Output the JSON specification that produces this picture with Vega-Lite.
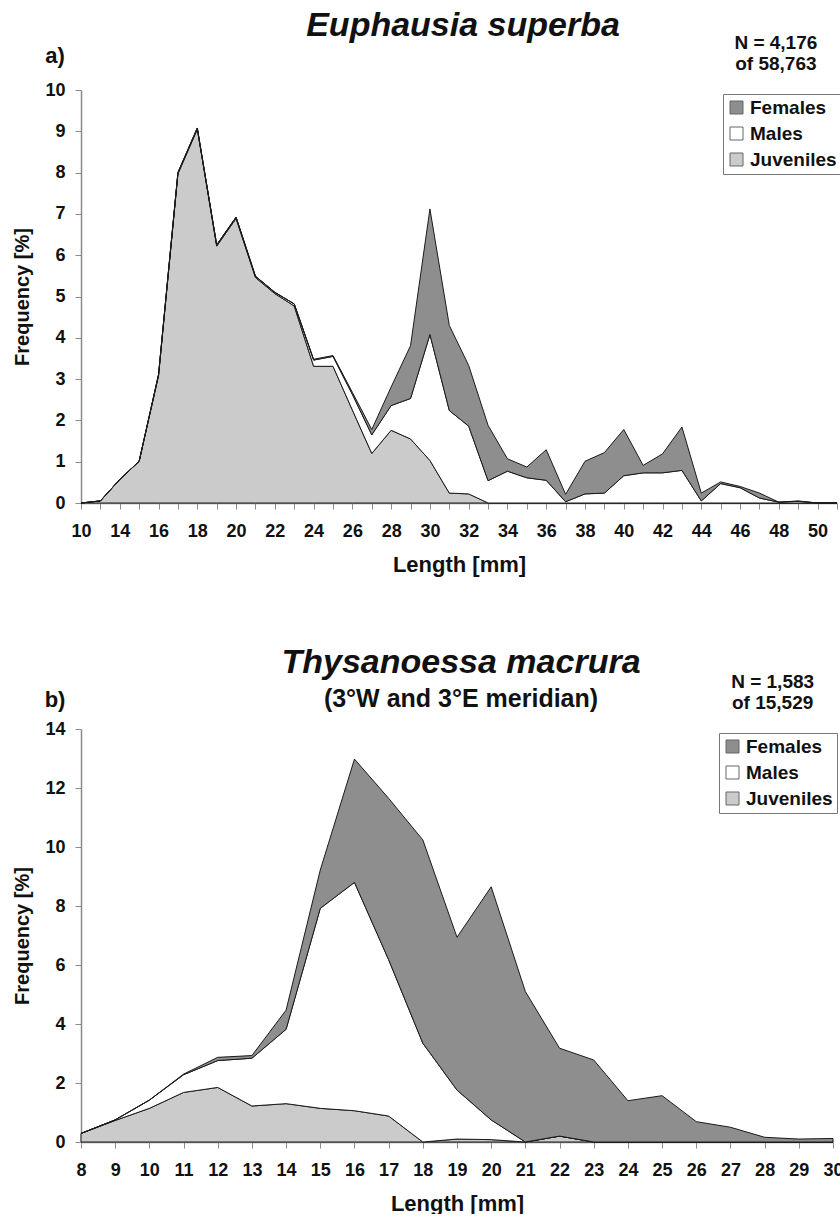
{
  "$schema": "https://vega.github.io/schema/vega-lite/v6.json",
  "padding": {"left": 12, "top": 8, "right": 0, "bottom": 0},
  "datasets": {
    "krill": [
      {"len": "10", "group": "Juveniles", "freq": 0}, {"len": "10", "group": "Males", "freq": 0}, {"len": "10", "group": "Females", "freq": 0},
      {"len": "13", "group": "Juveniles", "freq": 0.05}, {"len": "13", "group": "Males", "freq": 0}, {"len": "13", "group": "Females", "freq": 0},
      {"len": "14", "group": "Juveniles", "freq": 0.57}, {"len": "14", "group": "Males", "freq": 0}, {"len": "14", "group": "Females", "freq": 0},
      {"len": "15", "group": "Juveniles", "freq": 1.01}, {"len": "15", "group": "Males", "freq": 0}, {"len": "15", "group": "Females", "freq": 0},
      {"len": "16", "group": "Juveniles", "freq": 3.08}, {"len": "16", "group": "Males", "freq": 0.03}, {"len": "16", "group": "Females", "freq": 0},
      {"len": "17", "group": "Juveniles", "freq": 7.97}, {"len": "17", "group": "Males", "freq": 0.03}, {"len": "17", "group": "Females", "freq": 0},
      {"len": "18", "group": "Juveniles", "freq": 9.05}, {"len": "18", "group": "Males", "freq": 0.03}, {"len": "18", "group": "Females", "freq": 0},
      {"len": "19", "group": "Juveniles", "freq": 6.22}, {"len": "19", "group": "Males", "freq": 0.03}, {"len": "19", "group": "Females", "freq": 0},
      {"len": "20", "group": "Juveniles", "freq": 6.89}, {"len": "20", "group": "Males", "freq": 0.03}, {"len": "20", "group": "Females", "freq": 0},
      {"len": "21", "group": "Juveniles", "freq": 5.46}, {"len": "21", "group": "Males", "freq": 0.03}, {"len": "21", "group": "Females", "freq": 0},
      {"len": "22", "group": "Juveniles", "freq": 5.07}, {"len": "22", "group": "Males", "freq": 0.03}, {"len": "22", "group": "Females", "freq": 0},
      {"len": "23", "group": "Juveniles", "freq": 4.77}, {"len": "23", "group": "Males", "freq": 0.05}, {"len": "23", "group": "Females", "freq": 0},
      {"len": "24", "group": "Juveniles", "freq": 3.31}, {"len": "24", "group": "Males", "freq": 0.15}, {"len": "24", "group": "Females", "freq": 0.02},
      {"len": "25", "group": "Juveniles", "freq": 3.31}, {"len": "25", "group": "Males", "freq": 0.24}, {"len": "25", "group": "Females", "freq": 0.02},
      {"len": "26", "group": "Juveniles", "freq": 2.25}, {"len": "26", "group": "Males", "freq": 0.38}, {"len": "26", "group": "Females", "freq": 0.05},
      {"len": "27", "group": "Juveniles", "freq": 1.2}, {"len": "27", "group": "Males", "freq": 0.45}, {"len": "27", "group": "Females", "freq": 0.13},
      {"len": "28", "group": "Juveniles", "freq": 1.76}, {"len": "28", "group": "Males", "freq": 0.6}, {"len": "28", "group": "Females", "freq": 0.45},
      {"len": "29", "group": "Juveniles", "freq": 1.55}, {"len": "29", "group": "Males", "freq": 0.98}, {"len": "29", "group": "Females", "freq": 1.28},
      {"len": "30", "group": "Juveniles", "freq": 1.03}, {"len": "30", "group": "Males", "freq": 3.05}, {"len": "30", "group": "Females", "freq": 3.04},
      {"len": "31", "group": "Juveniles", "freq": 0.24}, {"len": "31", "group": "Males", "freq": 2.0}, {"len": "31", "group": "Females", "freq": 2.06},
      {"len": "32", "group": "Juveniles", "freq": 0.22}, {"len": "32", "group": "Males", "freq": 1.64}, {"len": "32", "group": "Females", "freq": 1.47},
      {"len": "33", "group": "Juveniles", "freq": 0}, {"len": "33", "group": "Males", "freq": 0.54}, {"len": "33", "group": "Females", "freq": 1.34},
      {"len": "34", "group": "Juveniles", "freq": 0}, {"len": "34", "group": "Males", "freq": 0.77}, {"len": "34", "group": "Females", "freq": 0.3},
      {"len": "35", "group": "Juveniles", "freq": 0}, {"len": "35", "group": "Males", "freq": 0.61}, {"len": "35", "group": "Females", "freq": 0.26},
      {"len": "36", "group": "Juveniles", "freq": 0}, {"len": "36", "group": "Males", "freq": 0.55}, {"len": "36", "group": "Females", "freq": 0.74},
      {"len": "37", "group": "Juveniles", "freq": 0}, {"len": "37", "group": "Males", "freq": 0.03}, {"len": "37", "group": "Females", "freq": 0.18},
      {"len": "38", "group": "Juveniles", "freq": 0}, {"len": "38", "group": "Males", "freq": 0.22}, {"len": "38", "group": "Females", "freq": 0.79},
      {"len": "39", "group": "Juveniles", "freq": 0}, {"len": "39", "group": "Males", "freq": 0.24}, {"len": "39", "group": "Females", "freq": 0.98},
      {"len": "40", "group": "Juveniles", "freq": 0}, {"len": "40", "group": "Males", "freq": 0.66}, {"len": "40", "group": "Females", "freq": 1.12},
      {"len": "41", "group": "Juveniles", "freq": 0}, {"len": "41", "group": "Males", "freq": 0.73}, {"len": "41", "group": "Females", "freq": 0.18},
      {"len": "42", "group": "Juveniles", "freq": 0}, {"len": "42", "group": "Males", "freq": 0.73}, {"len": "42", "group": "Females", "freq": 0.46},
      {"len": "43", "group": "Juveniles", "freq": 0}, {"len": "43", "group": "Males", "freq": 0.79}, {"len": "43", "group": "Females", "freq": 1.05},
      {"len": "44", "group": "Juveniles", "freq": 0}, {"len": "44", "group": "Males", "freq": 0.05}, {"len": "44", "group": "Females", "freq": 0.19},
      {"len": "45", "group": "Juveniles", "freq": 0}, {"len": "45", "group": "Males", "freq": 0.47}, {"len": "45", "group": "Females", "freq": 0.04},
      {"len": "46", "group": "Juveniles", "freq": 0}, {"len": "46", "group": "Males", "freq": 0.37}, {"len": "46", "group": "Females", "freq": 0.03},
      {"len": "47", "group": "Juveniles", "freq": 0}, {"len": "47", "group": "Males", "freq": 0.12}, {"len": "47", "group": "Females", "freq": 0.12},
      {"len": "48", "group": "Juveniles", "freq": 0}, {"len": "48", "group": "Males", "freq": 0.02}, {"len": "48", "group": "Females", "freq": 0},
      {"len": "49", "group": "Juveniles", "freq": 0}, {"len": "49", "group": "Males", "freq": 0.04}, {"len": "49", "group": "Females", "freq": 0.01},
      {"len": "50", "group": "Juveniles", "freq": 0}, {"len": "50", "group": "Males", "freq": 0}, {"len": "50", "group": "Females", "freq": 0},
      {"len": "51", "group": "Juveniles", "freq": 0}, {"len": "51", "group": "Males", "freq": 0}, {"len": "51", "group": "Females", "freq": 0}
    ],
    "thysa": [
      {"len": "8", "group": "Juveniles", "freq": 0.29}, {"len": "8", "group": "Males", "freq": 0}, {"len": "8", "group": "Females", "freq": 0},
      {"len": "9", "group": "Juveniles", "freq": 0.73}, {"len": "9", "group": "Males", "freq": 0.02}, {"len": "9", "group": "Females", "freq": 0},
      {"len": "10", "group": "Juveniles", "freq": 1.14}, {"len": "10", "group": "Males", "freq": 0.28}, {"len": "10", "group": "Females", "freq": 0},
      {"len": "11", "group": "Juveniles", "freq": 1.68}, {"len": "11", "group": "Males", "freq": 0.6}, {"len": "11", "group": "Females", "freq": 0.02},
      {"len": "12", "group": "Juveniles", "freq": 1.85}, {"len": "12", "group": "Males", "freq": 0.91}, {"len": "12", "group": "Females", "freq": 0.11},
      {"len": "13", "group": "Juveniles", "freq": 1.22}, {"len": "13", "group": "Males", "freq": 1.62}, {"len": "13", "group": "Females", "freq": 0.09},
      {"len": "14", "group": "Juveniles", "freq": 1.3}, {"len": "14", "group": "Males", "freq": 2.52}, {"len": "14", "group": "Females", "freq": 0.65},
      {"len": "15", "group": "Juveniles", "freq": 1.14}, {"len": "15", "group": "Males", "freq": 6.78}, {"len": "15", "group": "Females", "freq": 1.3},
      {"len": "16", "group": "Juveniles", "freq": 1.06}, {"len": "16", "group": "Males", "freq": 7.74}, {"len": "16", "group": "Females", "freq": 4.18},
      {"len": "17", "group": "Juveniles", "freq": 0.88}, {"len": "17", "group": "Males", "freq": 5.3}, {"len": "17", "group": "Females", "freq": 5.47},
      {"len": "18", "group": "Juveniles", "freq": 0}, {"len": "18", "group": "Males", "freq": 3.35}, {"len": "18", "group": "Females", "freq": 6.89},
      {"len": "19", "group": "Juveniles", "freq": 0.1}, {"len": "19", "group": "Males", "freq": 1.66}, {"len": "19", "group": "Females", "freq": 5.18},
      {"len": "20", "group": "Juveniles", "freq": 0.08}, {"len": "20", "group": "Males", "freq": 0.67}, {"len": "20", "group": "Females", "freq": 7.9},
      {"len": "21", "group": "Juveniles", "freq": 0}, {"len": "21", "group": "Males", "freq": 0}, {"len": "21", "group": "Females", "freq": 5.1},
      {"len": "22", "group": "Juveniles", "freq": 0.2}, {"len": "22", "group": "Males", "freq": 0}, {"len": "22", "group": "Females", "freq": 2.98},
      {"len": "23", "group": "Juveniles", "freq": 0}, {"len": "23", "group": "Males", "freq": 0}, {"len": "23", "group": "Females", "freq": 2.78},
      {"len": "24", "group": "Juveniles", "freq": 0}, {"len": "24", "group": "Males", "freq": 0}, {"len": "24", "group": "Females", "freq": 1.4},
      {"len": "25", "group": "Juveniles", "freq": 0}, {"len": "25", "group": "Males", "freq": 0}, {"len": "25", "group": "Females", "freq": 1.57},
      {"len": "26", "group": "Juveniles", "freq": 0}, {"len": "26", "group": "Males", "freq": 0}, {"len": "26", "group": "Females", "freq": 0.69},
      {"len": "27", "group": "Juveniles", "freq": 0}, {"len": "27", "group": "Males", "freq": 0}, {"len": "27", "group": "Females", "freq": 0.5},
      {"len": "28", "group": "Juveniles", "freq": 0}, {"len": "28", "group": "Males", "freq": 0}, {"len": "28", "group": "Females", "freq": 0.16},
      {"len": "29", "group": "Juveniles", "freq": 0}, {"len": "29", "group": "Males", "freq": 0}, {"len": "29", "group": "Females", "freq": 0.1},
      {"len": "30", "group": "Juveniles", "freq": 0}, {"len": "30", "group": "Males", "freq": 0}, {"len": "30", "group": "Females", "freq": 0.12}
    ]
  },
  "spacing": 71,
  "resolve": {"legend": {"color": "independent"}},
  "vconcat": [
    {
      "width": 756,
      "height": 413,
      "title": {"text": "Euphausia superba", "offset": -9, "dx": 4},
      "layer": [
        {
          "data": {"name": "krill"},
          "transform": [{"stack": "freq", "groupby": ["len"], "as": ["lo", "hi"]}],
          "mark": {"type": "area", "stroke": "#1a1a1a", "strokeWidth": 1, "opacity": 1, "fillOpacity": 1},
          "encoding": {
            "x": {
              "field": "len", "type": "ordinal",
              "scale": {"type": "point", "padding": 0, "domain": ["10","13","14","15","16","17","18","19","20","21","22","23","24","25","26","27","28","29","30","31","32","33","34","35","36","37","38","39","40","41","42","43","44","45","46","47","48","49","50","51"]},
              "axis": {"title": "Length [mm]", "labelAngle": 0, "labelPadding": 13, "titlePadding": 14, "titleFontSize": 22, "labelOverlap": false,
                "labelExpr": "indexof(['10','14','16','18','20','22','24','26','28','30','32','34','36','38','40','42','44','46','48','50'], datum.value) >= 0 ? datum.label : ''"}
            },
            "y": {"field": "hi", "type": "quantitative", "scale": {"domain": [0, 10], "nice": false},
              "axis": {"title": "Frequency [%]", "values": [0,1,2,3,4,5,6,7,8,9,10], "labelPadding": 10, "titlePadding": 12}},
            "y2": {"field": "lo"},
            "color": {"field": "group", "type": "nominal",
              "scale": {"domain": ["Females", "Males", "Juveniles"], "range": ["#8e8e8e", "#ffffff", "#cbcbcb"]},
              "legend": {"orient": "none", "legendX": 642, "legendY": 4}}
          }
        },
        {
          "data": {"values": [{"label": "a)"}]},
          "mark": {"type": "text", "fontSize": 22, "fontWeight": "bold", "font": "Liberation Sans", "align": "center", "baseline": "middle", "dx": -26, "color": "#111"},
          "encoding": {"x": {"datum": "10", "type": "ordinal"}, "y": {"datum": 10.83, "type": "quantitative"}, "text": {"field": "label"}}
        },
        {
          "data": {"values": [{"label": ["N = 4,176", "of 58,763"]}]},
          "mark": {"type": "text", "fontSize": 19, "fontWeight": "bold", "font": "Liberation Sans", "align": "center", "baseline": "middle", "dx": -3, "lineHeight": 21, "color": "#111"},
          "encoding": {"x": {"datum": "48", "type": "ordinal"}, "y": {"datum": 11.14, "type": "quantitative"}, "text": {"field": "label"}}
        }
      ]
    },
    {
      "width": 752,
      "height": 413,
      "title": {"text": "Thysanoessa macrura", "subtitle": "(3°W and 3°E meridian)", "offset": -39, "dx": 4},
      "layer": [
        {
          "data": {"name": "thysa"},
          "transform": [{"stack": "freq", "groupby": ["len"], "as": ["lo", "hi"]}],
          "mark": {"type": "area", "stroke": "#1a1a1a", "strokeWidth": 1, "opacity": 1, "fillOpacity": 1},
          "encoding": {
            "x": {
              "field": "len", "type": "ordinal",
              "scale": {"type": "point", "padding": 0, "domain": ["8","9","10","11","12","13","14","15","16","17","18","19","20","21","22","23","24","25","26","27","28","29","30"]},
              "axis": {"title": "Length [mm]", "labelAngle": 0, "labelPadding": 13, "titlePadding": 14, "titleFontSize": 22, "labelOverlap": false}
            },
            "y": {"field": "hi", "type": "quantitative", "scale": {"domain": [0, 14], "nice": false},
              "axis": {"title": "Frequency [%]", "values": [0,2,4,6,8,10,12,14], "labelPadding": 10, "titlePadding": 12}},
            "y2": {"field": "lo"},
            "color": {"field": "group", "type": "nominal",
              "scale": {"domain": ["Females", "Males", "Juveniles"], "range": ["#8e8e8e", "#ffffff", "#cbcbcb"]},
              "legend": {"orient": "none", "legendX": 638, "legendY": 4}}
          }
        },
        {
          "data": {"values": [{"label": "b)"}]},
          "mark": {"type": "text", "fontSize": 22, "fontWeight": "bold", "font": "Liberation Sans", "align": "center", "baseline": "middle", "dx": -26, "color": "#111"},
          "encoding": {"x": {"datum": "8", "type": "ordinal"}, "y": {"datum": 14.98, "type": "quantitative"}, "text": {"field": "label"}}
        },
        {
          "data": {"values": [{"label": ["N = 1,583", "of 15,529"]}]},
          "mark": {"type": "text", "fontSize": 19, "fontWeight": "bold", "font": "Liberation Sans", "align": "center", "baseline": "middle", "dx": 8, "lineHeight": 21, "color": "#111"},
          "encoding": {"x": {"datum": "28", "type": "ordinal"}, "y": {"datum": 15.58, "type": "quantitative"}, "text": {"field": "label"}}
        }
      ]
    }
  ],
  "config": {
    "font": "Liberation Sans",
    "view": {"stroke": null},
    "axis": {
      "labelFont": "Liberation Sans", "labelFontSize": 18, "labelFontWeight": "bold", "labelColor": "#111",
      "titleFont": "Liberation Sans", "titleFontSize": 20, "titleFontWeight": "bold", "titleColor": "#111",
      "domainColor": "#8a8a8a", "tickColor": "#8a8a8a", "tickSize": 6, "grid": false, "domainWidth": 1.5
    },
    "title": {
      "font": "Liberation Sans", "fontSize": 34, "fontWeight": "bold", "fontStyle": "italic", "color": "#111",
      "subtitleFont": "Liberation Sans", "subtitleFontSize": 25, "subtitleFontWeight": "bold", "subtitleFontStyle": "normal", "subtitleColor": "#111",
      "anchor": "middle", "subtitlePadding": 7
    },
    "legend": {
      "title": null, "symbolType": "square", "symbolSize": 169, "symbolStrokeColor": "#666", "symbolStrokeWidth": 1,
      "labelFont": "Liberation Sans", "labelFontSize": 19, "labelFontWeight": "bold", "labelColor": "#111",
      "labelOffset": 4, "rowPadding": 6, "padding": 4, "strokeColor": "#777", "fillColor": "#ffffff"
    }
  }
}
